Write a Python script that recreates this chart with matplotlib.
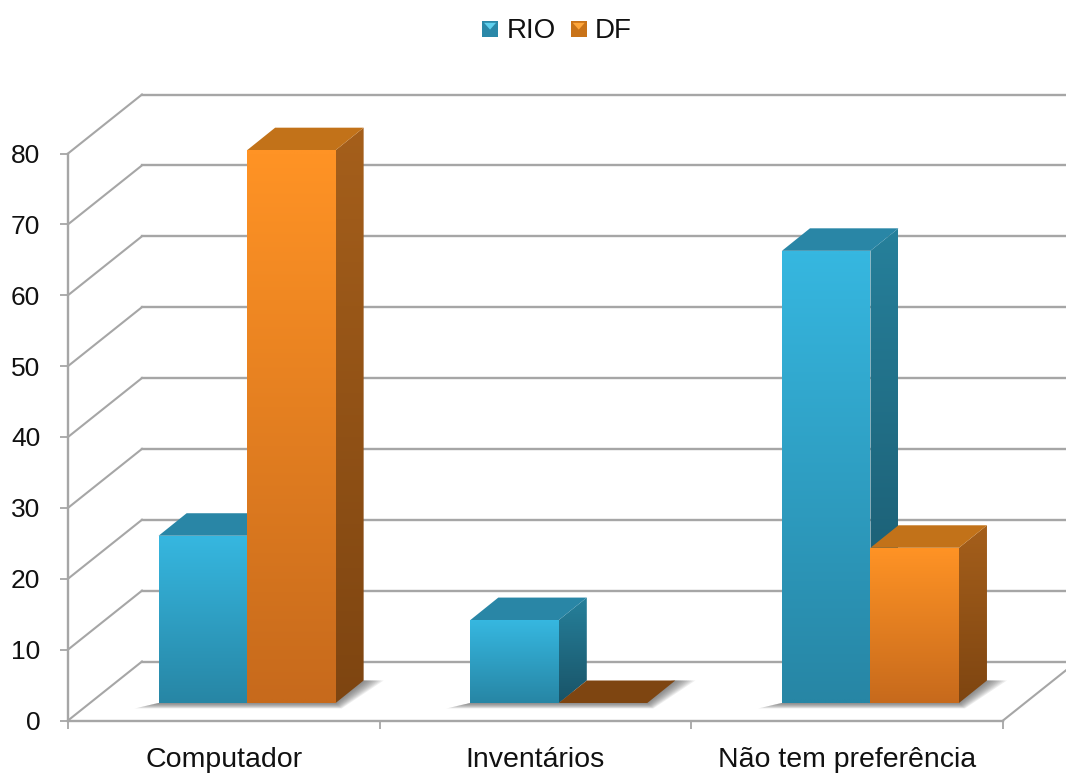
import numpy as np
import matplotlib
matplotlib.use("Agg")
import matplotlib.pyplot as plt
from matplotlib.colors import to_rgb
from matplotlib.patches import Polygon, Rectangle
from matplotlib.legend_handler import HandlerBase

plt.rcParams['font.family'] = ['Liberation Sans', 'DejaVu Sans']

categories = ["Computador", "Inventários", "Não tem preferência"]
series_names = ["RIO", "DF"]
rio_values = [23.6, 11.7, 63.8]
df_values = [78.0, 0.0, 21.9]
y_ticks = [0, 10, 20, 30, 40, 50, 60, 70, 80]

W, H = 1066, 774
AX_L, AX_R, AX_T, AX_B = 68, 1003, 153.5, 720.5
PX_X = (AX_R - AX_L) / 3
PX_Y = (AX_B - AX_T) / 80


def ux(px):
    return px / PX_X


def uy(px):
    return px / PX_Y


GRID = "#A6A6A6"
WALL_DX, WALL_DY = ux(74), uy(59)
BASE_DX, BASE_DY = ux(23.3), uy(17.5)
DEPTH_DX, DEPTH_DY = ux(28), uy(22.5)
BAR_W = ux(88.5)

STYLES = {
    "RIO": dict(front=("#36B7E0", "#2786A5"), side=("#26809B", "#195468"),
                top="#2986A6", flat="#1F6880"),
    "DF": dict(front=("#FF9325", "#C76A1C"), side=("#A55F1B", "#7E4511"),
               top="#C27219", flat="#7E4511"),
}

fig = plt.figure(figsize=(W / 100, H / 100), dpi=100, facecolor="white")
ax = fig.add_axes([AX_L / W, (H - AX_B) / H, (AX_R - AX_L) / W, (AX_B - AX_T) / H])
ax.patch.set_alpha(0)


def gradient_face(pts, top, bottom, z):
    pts = np.array(pts)
    c0, c1 = np.array(to_rgb(top)), np.array(to_rgb(bottom))
    t = np.linspace(0, 1, 64)[:, None, None]
    arr = c0[None, None, :] * (1 - t) + c1[None, None, :] * t
    im = ax.imshow(arr, extent=(pts[:, 0].min(), pts[:, 0].max(), pts[:, 1].min(), pts[:, 1].max()),
                   origin="upper", aspect="auto", zorder=z, interpolation="bilinear")
    im.set_clip_box(fig.bbox)
    im.set_clip_path(Polygon(pts, closed=True, transform=ax.transData))


def flat_face(pts, color, z):
    ax.add_patch(Polygon(pts, closed=True, facecolor=color, edgecolor="none", zorder=z, clip_on=False))


def draw_bar(x0, value, style, z):
    b = BASE_DY
    x1 = x0 + BAR_W
    t = b + value
    if value > 0:
        gradient_face([(x1, b), (x1 + DEPTH_DX, b + DEPTH_DY), (x1 + DEPTH_DX, t + DEPTH_DY), (x1, t)],
                      *style["side"], z)
        flat_face([(x0, t), (x1, t), (x1 + DEPTH_DX, t + DEPTH_DY), (x0 + DEPTH_DX, t + DEPTH_DY)],
                  style["top"], z + 0.1)
        gradient_face([(x0, b), (x1, b), (x1, t), (x0, t)], *style["front"], z + 0.2)
    else:
        flat_face([(x0, b), (x1, b), (x1 + DEPTH_DX, b + DEPTH_DY), (x0 + DEPTH_DX, b + DEPTH_DY)],
                  style["flat"], z + 0.1)


def draw_shadow(x0, x1, z):
    b = BASE_DY
    n = 10
    for k in range(n):
        f = 1 - k / n
        low = b - uy(5.5 * f)
        pts = [(x0 - ux(24 * f), low), (x0, b),
               (x1 + DEPTH_DX, b + DEPTH_DY), (x1 + DEPTH_DX + ux(20 * f), b + DEPTH_DY),
               (x1 + ux(6 * f), low)]
        flat_face(pts, (0.35, 0.35, 0.35, 0.1), z)


# walls and floor
for v in y_ticks:
    ax.plot([0, WALL_DX], [v, v + WALL_DY], color=GRID, lw=1.5, zorder=1, clip_on=False)
    ax.plot([WALL_DX, 3 + WALL_DX], [v + WALL_DY, v + WALL_DY], color=GRID, lw=1.7, zorder=1, clip_on=False)
ax.plot([3, 3 + WALL_DX], [0, WALL_DY], color=GRID, lw=1.5, zorder=1, clip_on=False)

# bars
for i in range(len(categories)):
    x_rio = i + 0.5 + BASE_DX - BAR_W
    draw_shadow(x_rio, x_rio + 2 * BAR_W, 2)
    draw_bar(x_rio, rio_values[i], STYLES["RIO"], 3 + i)
    draw_bar(x_rio + BAR_W, df_values[i], STYLES["DF"], 3.5 + i)

ax.set_xlim(0, 3)
ax.set_ylim(0, 80)

# axes
for s in ("top", "right"):
    ax.spines[s].set_visible(False)
for s in ("left", "bottom"):
    ax.spines[s].set_color(GRID)
    ax.spines[s].set_linewidth(1.7)
    ax.spines[s].set_zorder(1.5)
ax.set_yticks(y_ticks)
ax.set_yticklabels([str(v) for v in y_ticks], fontsize=19, color="#111111")
ax.tick_params(axis="y", length=6, width=1.3, color=GRID, pad=14)
ax.set_xticks(range(len(categories) + 1))
ax.set_xticklabels([])
ax.tick_params(axis="x", which="major", length=6, width=1.3, color=GRID)
ax.set_xticks([i + 0.5 for i in range(len(categories))], minor=True)
ax.set_xticklabels(categories, minor=True, fontsize=20.5, color="#111111")
ax.tick_params(axis="x", which="minor", length=0, pad=19)


# legend
class PyramidHandler(HandlerBase):
    def __init__(self, dark, light):
        super().__init__()
        self.dark, self.light = dark, light

    def create_artists(self, legend, orig, xd, yd, w, h, fontsize, trans):
        s = min(w, h)
        x, y = -xd, -yd
        sq = Rectangle((x, y), s, s, facecolor=self.dark, edgecolor="none", transform=trans)
        tri = Polygon([(x + s * .12, y + s * .88), (x + s * .88, y + s * .88), (x + s * .5, y + s * .45)],
                      closed=True, facecolor=self.light, edgecolor="none", transform=trans)
        return [sq, tri]


h_rio = Rectangle((0, 0), 1, 1)
h_df = Rectangle((0, 0), 1, 1)
fig.legend([h_rio, h_df], series_names, loc="center", bbox_to_anchor=(557 / W, 1 - 31 / H),
           ncol=2, frameon=False, fontsize=20, handlelength=0.57, handleheight=0.57,
           handletextpad=0.3, columnspacing=0.55,
           labelcolor="#111111",
           handler_map={h_rio: PyramidHandler("#2A88A8", "#5FD0EE"),
                        h_df: PyramidHandler("#C97318", "#FFA63A")})

fig.savefig("out.png", dpi=100, facecolor="white")
